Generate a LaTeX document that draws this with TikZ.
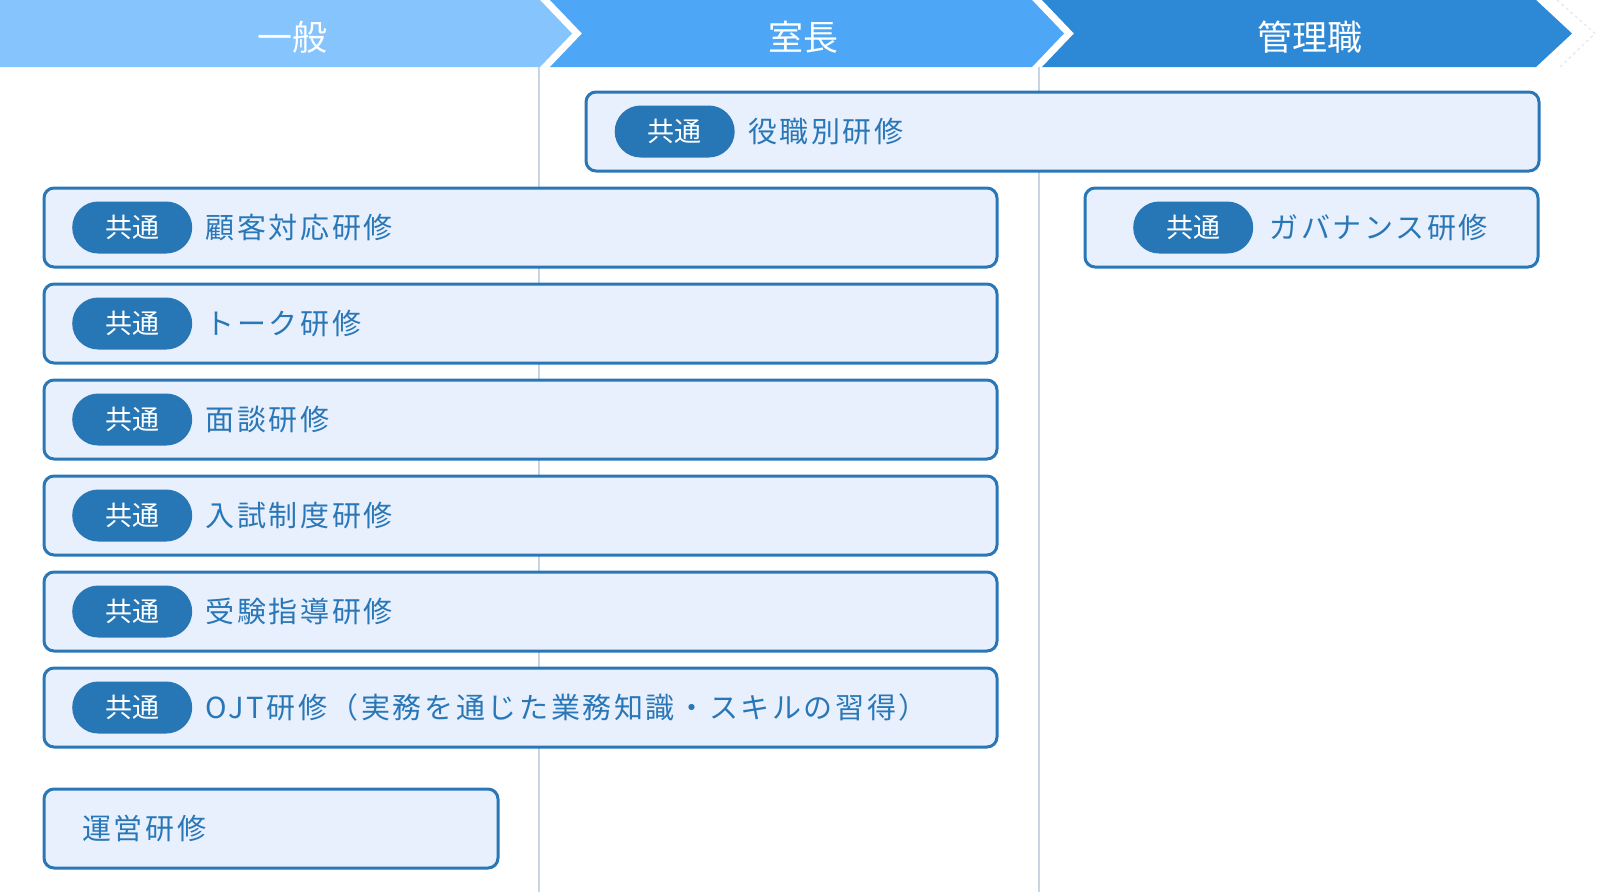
\documentclass[tikz,border=0pt]{standalone}
\usepackage{fontspec}
\newfontfamily\jpfont{Noto Sans CJK JP}
\newfontfamily\jplabel[LetterSpace=9]{Noto Sans CJK JP}
\usetikzlibrary{positioning}
\definecolor{bandone}{HTML}{85C4FD}
\definecolor{bandtwo}{HTML}{4EA6F6}
\definecolor{bandthree}{HTML}{2D89D6}
\definecolor{courseedge}{HTML}{2A77B7}
\definecolor{coursefill}{HTML}{E8F0FD}
\definecolor{badgefill}{HTML}{2777B6}
\definecolor{divider}{HTML}{C9D5E2}
\definecolor{ghost}{HTML}{DCE5F1}
\begin{document}
\begin{tikzpicture}[x=1pt,y=-1pt,
    course/.style={draw=courseedge, fill=coursefill, line width=3pt, rounded corners=10pt, inner sep=0pt, anchor=north west},
    badge/.style={fill=badgefill, text=white, rounded corners=26pt, minimum width=120pt, minimum height=52pt, inner sep=0pt, anchor=west, font=\jpfont\fontsize{27}{30}\selectfont},
    coursetext/.style={text=courseedge, inner sep=0pt, anchor=west, font=\jplabel\fontsize{29}{32}\selectfont},
    headtext/.style={text=white, inner sep=0pt, font=\jpfont\fontsize{35}{40}\selectfont}]
                \useasboundingbox (0,0) rectangle (1620,892);

                % Drawing header bands
                \fill [bandone] (0,0) -- (540,0) -- (572,33.5) -- (540,67) -- (0,67) -- cycle;%
                \fill [bandtwo] (550,0) -- (1032,0) -- (1064,33.5) -- (1032,67) -- (550,67) -- (582,33.5) -- cycle;%
                \fill [bandthree] (1042,0) -- (1536,0) -- (1572,33.5) -- (1536,67) -- (1042,67) -- (1074,33.5) -- cycle;%
                \draw [ghost, line width=1pt, dashed] (1557,0) -- (1595,33.5) -- (1560,67);%

                \node [headtext] (ippan) at (292,37) {一般};%
                \node [headtext] (shitsucho) at (803,37) {室長};%
                \node [headtext] (kanrishoku) at (1310,37) {管理職};%

                % Drawing column dividers
                \draw [divider, line width=2pt] (539,67) -- (539,892);%
                \draw [divider, line width=2pt] (1039,67) -- (1039,892);%

                % Drawing box yakushoku
                \node [course, minimum width=953pt, minimum height=79pt] (yakushoku) at (584.5,90.5) {};%
                \node [badge] (yakushokubadge) at ([xshift=30pt]yakushoku.west) {共通};%
                \node [coursetext, right=13pt of yakushokubadge] (yakushokutext) {役職別研修};%

                % Drawing box kokyaku
                \node [course, minimum width=953pt, minimum height=79pt] (kokyaku) at (42.5,186.5) {};%
                \node [badge] (kokyakubadge) at ([xshift=29.5pt]kokyaku.west) {共通};%
                \node [coursetext, right=13pt of kokyakubadge] (kokyakutext) {顧客対応研修};%

                % Drawing box governance
                \node [course, minimum width=453pt, minimum height=79pt] (governance) at (1083.5,186.5) {};%
                \node [badge] (governancebadge) at ([xshift=49.5pt]governance.west) {共通};%
                \node [coursetext, right=16pt of governancebadge] (governancetext) {ガバナンス研修};%

                % Drawing box talk
                \node [course, minimum width=953pt, minimum height=79pt] (talk) at (42.5,282.5) {};%
                \node [badge] (talkbadge) at ([xshift=29.5pt]talk.west) {共通};%
                \node [coursetext, right=13pt of talkbadge] (talktext) {トーク研修};%

                % Drawing box mendan
                \node [course, minimum width=953pt, minimum height=79pt] (mendan) at (42.5,378.5) {};%
                \node [badge] (mendanbadge) at ([xshift=29.5pt]mendan.west) {共通};%
                \node [coursetext, right=13pt of mendanbadge] (mendantext) {面談研修};%

                % Drawing box nyushi
                \node [course, minimum width=953pt, minimum height=79pt] (nyushi) at (42.5,474.5) {};%
                \node [badge] (nyushibadge) at ([xshift=29.5pt]nyushi.west) {共通};%
                \node [coursetext, right=13pt of nyushibadge] (nyushitext) {入試制度研修};%

                % Drawing box juken
                \node [course, minimum width=953pt, minimum height=79pt] (juken) at (42.5,570.5) {};%
                \node [badge] (jukenbadge) at ([xshift=29.5pt]juken.west) {共通};%
                \node [coursetext, right=13pt of jukenbadge] (jukentext) {受験指導研修};%

                % Drawing box ojt
                \node [course, minimum width=953pt, minimum height=79pt] (ojt) at (42.5,666.5) {};%
                \node [badge] (ojtbadge) at ([xshift=29.5pt]ojt.west) {共通};%
                \node [coursetext, right=13pt of ojtbadge] (ojttext) {OJT研修（実務を通じた業務知識・スキルの習得）};%

                % Drawing box unei
                \node [course, minimum width=454pt, minimum height=79pt] (unei) at (42.5,787.5) {};%
                \node [coursetext] (ueitext) at ([xshift=39.5pt]unei.west) {運営研修};%
\end{tikzpicture}
\end{document}
